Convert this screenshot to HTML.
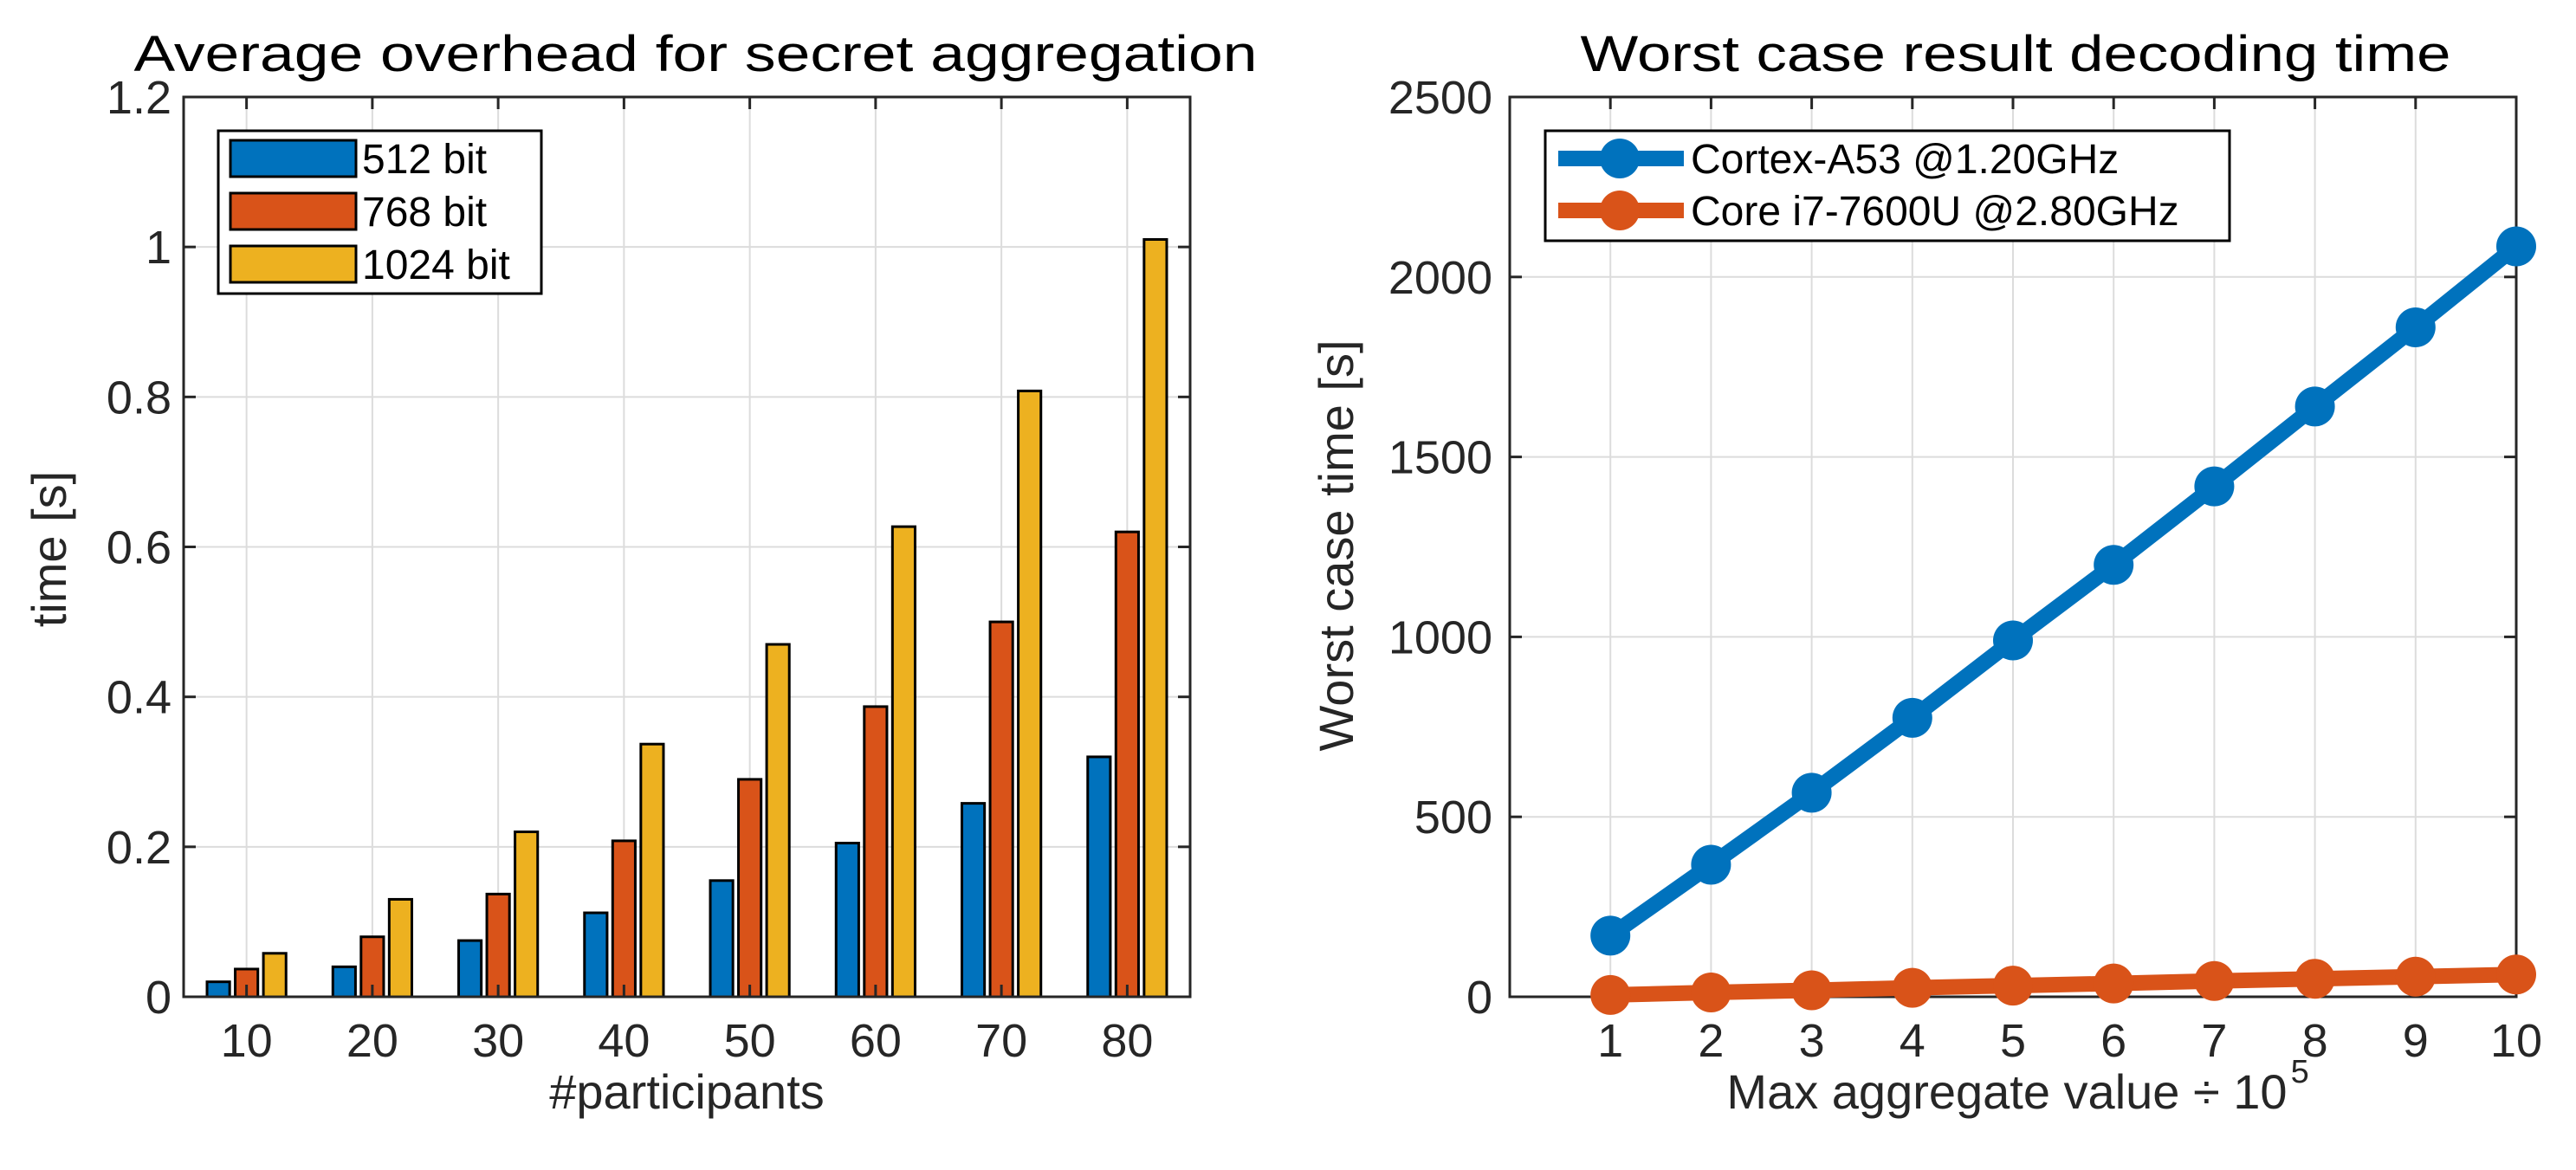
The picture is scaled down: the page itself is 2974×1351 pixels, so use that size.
<!DOCTYPE html>
<html><head><meta charset="utf-8"><style>
html,body{margin:0;padding:0;background:#fff;}
svg{display:block;font-family:"Liberation Sans",sans-serif;}
</style></head><body>
<svg id="fig" width="2974" height="1351" viewBox="0 0 2974 1351">
<g id="left"></g>
<g id="right"></g>
</svg>
<script>
const participants = [10,20,30,40,50,60,70,80];
const bits512 = [0.02,0.04,0.075,0.112,0.155,0.205,0.258,0.32];
const bits768 = [0.037,0.08,0.137,0.208,0.29,0.387,0.5,0.62];
const bits1024 = [0.058,0.13,0.22,0.337,0.47,0.627,0.808,1.01];
const leftYTicks = [0,0.2,0.4,0.6,0.8,1,1.2];
const leftYTickLabels = ['0','0.2','0.4','0.6','0.8','1','1.2'];
const seriesNames = ['512 bit','768 bit','1024 bit'];

const aggValues = [1,2,3,4,5,6,7,8,9,10];
const cortexA53 = [170,367,567,775,990,1200,1418,1640,1860,2085];
const corei7 = [5,12,18,25,31,37,44,50,56,62];
const rightYTicks = [0,500,1000,1500,2000,2500];
const lineNames = ['Cortex-A53 @1.20GHz','Core i7-7600U @2.80GHz'];

const NS='http://www.w3.org/2000/svg';
function mk(parent, tag, attrs, text){
  const e=document.createElementNS(NS,tag);
  for(const k in attrs) e.setAttribute(k,attrs[k]);
  if(text!==undefined) e.textContent=text;
  parent.appendChild(e); return e;
}
const AX='#262626', GRID='#dcdcdc';
const C=['#0072bd','#d95319','#edb120'];

// ---------- LEFT ----------
const L=document.getElementById('left');
const lx0=212,lx1=1374,ly0=1151,ly1=112;
const lxs=v=>lx0+(v-5)/80*(lx1-lx0);
const lys=v=>ly0-(v/1.2)*(ly0-ly1);
participants.forEach(p=>{
  const g=mk(L,'line',{x1:lxs(p),x2:lxs(p),y1:ly1,y2:ly0,stroke:GRID,'stroke-width':2});
  
  
});
leftYTicks.forEach(t=>{
  const g=mk(L,'line',{x1:lx0,x2:lx1,y1:lys(t),y2:lys(t),stroke:GRID,'stroke-width':2});
  
  
});
const lseries=[bits512,bits768,bits1024];
const off=2.24, bw=1.8;
lseries.forEach((s,si)=>{
  s.forEach((v,i)=>{
    const cx=participants[i]+(si-1)*off;
    const x=lxs(cx-bw/2), w=lxs(cx+bw/2)-x;
    const r=mk(L,'rect',{x:x,y:lys(v),width:w,height:lys(0)-lys(v),fill:C[si],stroke:'#000','stroke-width':3});
    
    
  });
});
let fr=mk(L,'rect',{x:lx0,y:ly1,width:lx1-lx0,height:ly0-ly1,fill:'none',stroke:AX,'stroke-width':3});


participants.forEach(p=>{
  mk(L,'line',{x1:lxs(p),x2:lxs(p),y1:ly0,y2:ly0-14,stroke:AX,'stroke-width':3});
  mk(L,'line',{x1:lxs(p),x2:lxs(p),y1:ly1,y2:ly1+14,stroke:AX,'stroke-width':3});
  const t=mk(L,'text',{x:lxs(p),y:1220,'font-size':54,'text-anchor':'middle',fill:AX},String(p));
  
  
});
leftYTicks.forEach((v,i)=>{
  mk(L,'line',{x1:lx0,x2:lx0+14,y1:lys(v),y2:lys(v),stroke:AX,'stroke-width':3});
  mk(L,'line',{x1:lx1,x2:lx1-14,y1:lys(v),y2:lys(v),stroke:AX,'stroke-width':3});
  const t=mk(L,'text',{x:lx0-14,y:lys(v)+19,'font-size':54,'text-anchor':'end',fill:AX},leftYTickLabels[i]);
  
  
});
let tt=mk(L,'text',{x:803,y:82,'font-size':58,'text-anchor':'middle',fill:'#000',textLength:1297,lengthAdjust:'spacingAndGlyphs'},'Average overhead for secret aggregation');


tt=mk(L,'text',{x:793,y:1280,'font-size':56,'text-anchor':'middle',fill:AX},'#participants');


tt=mk(L,'text',{x:0,y:0,'font-size':56,'text-anchor':'middle',fill:AX,transform:'translate(76,634) rotate(-90)'},'time [s]');


const lg=mk(L,'g',{});


mk(lg,'rect',{x:252,y:151,width:373,height:188,fill:'#fff',stroke:'#000','stroke-width':3});
seriesNames.forEach((n,i)=>{
  const cy=183+i*61;
  const r=mk(lg,'rect',{x:266,y:cy-21,width:145,height:42,fill:C[i],stroke:'#000','stroke-width':3});
  
  
  const t=mk(lg,'text',{x:418,y:cy+17,'font-size':48,fill:'#000'},n);
  
  
});

// ---------- RIGHT ----------
const R=document.getElementById('right');
const rx0=1743,rx1=2905,ry0=1151,ry1=112;
const rxs=v=>rx0+v/10*(rx1-rx0);
const rys=v=>ry0-v/2500*(ry0-ry1);
aggValues.forEach(a=>{
  const g=mk(R,'line',{x1:rxs(a),x2:rxs(a),y1:ry1,y2:ry0,stroke:GRID,'stroke-width':2});
  
  
});
rightYTicks.forEach(t=>{
  const g=mk(R,'line',{x1:rx0,x2:rx1,y1:rys(t),y2:rys(t),stroke:GRID,'stroke-width':2});
  
  
});
fr=mk(R,'rect',{x:rx0,y:ry1,width:rx1-rx0,height:ry0-ry1,fill:'none',stroke:AX,'stroke-width':3});


aggValues.forEach(a=>{
  mk(R,'line',{x1:rxs(a),x2:rxs(a),y1:ry0,y2:ry0-14,stroke:AX,'stroke-width':3});
  mk(R,'line',{x1:rxs(a),x2:rxs(a),y1:ry1,y2:ry1+14,stroke:AX,'stroke-width':3});
  const t=mk(R,'text',{x:rxs(a),y:1220,'font-size':54,'text-anchor':'middle',fill:AX},String(a));
  
  
});
rightYTicks.forEach(v=>{
  mk(R,'line',{x1:rx0,x2:rx0+14,y1:rys(v),y2:rys(v),stroke:AX,'stroke-width':3});
  mk(R,'line',{x1:rx1,x2:rx1-14,y1:rys(v),y2:rys(v),stroke:AX,'stroke-width':3});
  const t=mk(R,'text',{x:rx0-20,y:rys(v)+19,'font-size':54,'text-anchor':'end',fill:AX},String(v));
  
  
});
[[cortexA53,C[0],'cortex-a53'],[corei7,C[1],'core-i7']].forEach(([s,c,n])=>{
  const pts=s.map((v,i)=>rxs(aggValues[i])+','+rys(v)).join(' ');
  const pl=mk(R,'polyline',{points:pts,fill:'none',stroke:c,'stroke-width':18,'stroke-linejoin':'round'});
  
  
  s.forEach((v,i)=>{
    const p=mk(R,'circle',{cx:rxs(aggValues[i]),cy:rys(v),r:23,fill:c});
    
    
  });
});
tt=mk(R,'text',{x:2327,y:82,'font-size':58,'text-anchor':'middle',fill:'#000',textLength:1005,lengthAdjust:'spacingAndGlyphs'},'Worst case result decoding time');


tt=mk(R,'text',{x:2317,y:1280,'font-size':56,'text-anchor':'middle',fill:AX},'Max aggregate value ÷ 10');


const bb=tt.getComputedTextLength();
const sup=mk(R,'text',{x:2317+bb/2+4,y:1250,'font-size':38,fill:AX},'5');


tt=mk(R,'text',{x:0,y:0,'font-size':56,'text-anchor':'middle',fill:AX,transform:'translate(1562,630) rotate(-90)'},'Worst case time [s]');


const rg=mk(R,'g',{});


mk(rg,'rect',{x:1784,y:151,width:790,height:127,fill:'#fff',stroke:'#000','stroke-width':3});
lineNames.forEach((n,i)=>{
  const cy=183+i*60;
  mk(rg,'line',{x1:1799,x2:1944,y1:cy,y2:cy,stroke:C[i],'stroke-width':18});
  const m=mk(rg,'circle',{cx:1870,cy:cy,r:23,fill:C[i]});
  
  
  const t=mk(rg,'text',{x:1952,y:cy+17,'font-size':48,fill:'#000'},n);
  
  
});
</script>
</body></html>
